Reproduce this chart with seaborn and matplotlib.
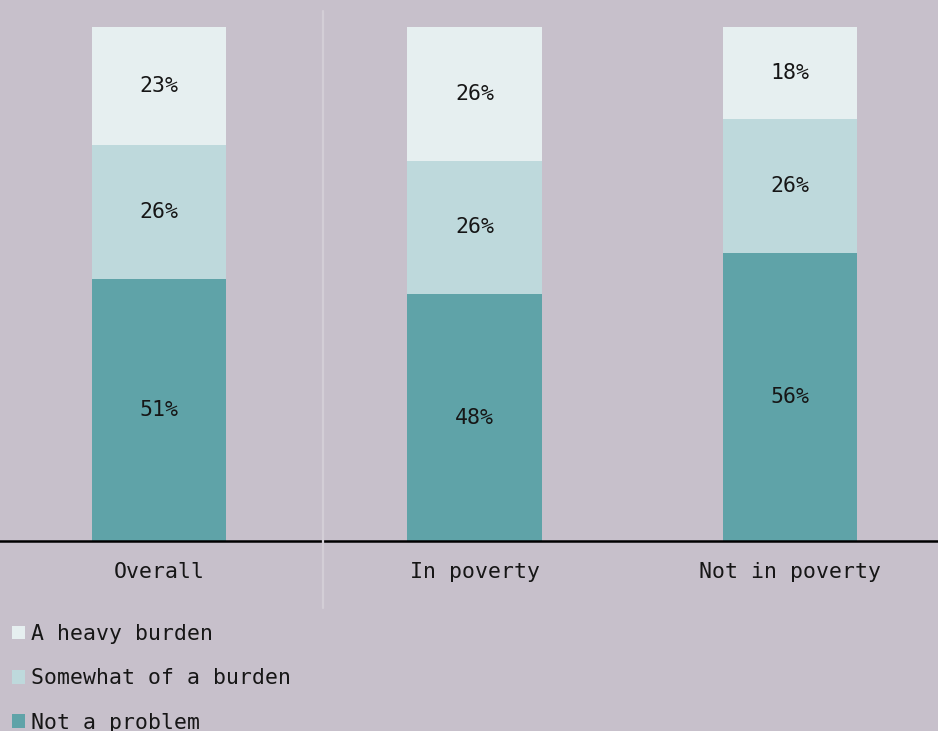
import numpy as np
import pandas as pd
import matplotlib
matplotlib.use("Agg")
import matplotlib.pyplot as plt
from matplotlib.lines import Line2D
from matplotlib.patches import Patch
import seaborn as sns

# Survey groups and the share of each answer (percent)
groups = ["Overall", "In poverty", "Not in poverty"]
not_a_problem = [51, 48, 56]
somewhat_burden = [26, 26, 26]
heavy_burden = [23, 26, 18]
answer_names = ["A heavy burden", "Somewhat of a burden", "Not a problem"]

BG = "#c7c0cb"
COLORS = {"Not a problem": "#5fa3a8",
          "Somewhat of a burden": "#bed9dc",
          "A heavy burden": "#e6eff0"}
TEXT = "#161616"

sns.set_theme(style="white")
plt.rcParams["font.family"] = ["DejaVu Sans Mono", "DejaVu Sans"]
FS = 15.5

df = pd.DataFrame({
    "group": groups,
    "Not a problem": not_a_problem,
    "Somewhat of a burden": somewhat_burden,
    "A heavy burden": heavy_burden,
})
stack_order = ["Not a problem", "Somewhat of a burden", "A heavy burden"]
bottoms = df[stack_order].cumsum(axis=1) - df[stack_order]
tops = df[stack_order].cumsum(axis=1)

fig = plt.figure(figsize=(9.38, 7.31), dpi=100, facecolor=BG)
ax = fig.add_axes([0, 1 - 541 / 731, 1, (541 - 11) / 731])
ax.set_facecolor(BG)

bar_w = 0.425
# draw the stacked layers from the tallest cumulative total down
for name in reversed(stack_order):
    sns.barplot(x=df["group"], y=tops[name], order=groups, color=COLORS[name],
                width=bar_w, saturation=1, ax=ax, linewidth=0, zorder=2)

# percentage labels centred in each segment
for i, g in enumerate(groups):
    for name in stack_order:
        v = df.loc[i, name]
        mid = bottoms.loc[i, name] + v / 2
        ax.text(i, mid, f"{v}%", ha="center", va="center", fontsize=FS,
                color=TEXT, zorder=4)

ax.set_xlim(-159 / 315.5, (938 - 159) / 315.5)
ax.set_ylim(0, 103.1)
ax.set_xlabel("")
ax.set_ylabel("")
ax.set_yticks([])
ax.tick_params(axis="x", length=0, pad=15, labelsize=FS, labelcolor=TEXT)
for s in ["top", "left", "right"]:
    ax.spines[s].set_visible(False)
ax.spines["bottom"].set_color("#000000")
ax.spines["bottom"].set_linewidth(1.8)
ax.spines["bottom"].set_zorder(3)

# divider between the overall bar and the poverty breakdown
div_x = (323 - 159) / 315.5
ax.add_line(Line2D([div_x, div_x], [0 - 67 / 5.14, 103.1], color="#d3ced6",
                   linewidth=1.6, clip_on=False, zorder=5))

handles = [Patch(facecolor=COLORS[n], edgecolor="none", label=n) for n in answer_names]
leg = fig.legend(handles=handles, loc="upper left",
                 bbox_to_anchor=(12 / 938, 1 - 624 / 731),
                 frameon=False, fontsize=FS, handlelength=0.6, handleheight=0.6,
                 handletextpad=0.3, labelspacing=1.13, borderaxespad=0, borderpad=0)
for t in leg.get_texts():
    t.set_color(TEXT)

fig.savefig("out.png", dpi=100, facecolor=BG)
